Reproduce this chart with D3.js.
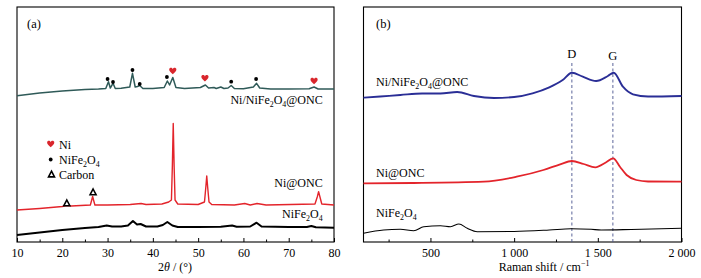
<!DOCTYPE html>
<html><head><meta charset="utf-8">
<script src="https://cdn.jsdelivr.net/npm/d3@7"></script>
<style>
body{margin:0;background:#fff;}
svg{display:block;}
svg text{font-family:"Liberation Serif","Times New Roman","DejaVu Serif",serif;}
</style></head>
<body><svg id="c" width="701" height="278" font-family="Liberation Serif, serif"></svg>
<script>
// ---------- DATA ----------
// Panel (a): XRD, 2θ (°) vs intensity (a.u., stacked with offsets)
const xrdNiNiFe2O4ONC = [[10,146.3],[15,149],[20,151],[25,152.5],[28,153],[29.6,153.5],[30.2,160.3],[30.6,154],[31.2,158.7],[31.7,153.5],[33,153.7],[34.9,155],[35.5,168.7],[36.1,155],[36.6,155.5],[37.1,156.5],[37.8,153.5],[40,153.5],[42.5,154.5],[43.2,161],[43.7,157],[44.4,164.5],[45.1,154.5],[47,153.5],[50.5,154.5],[51.6,157],[52.3,154],[53.5,154.5],[54,153.5],[55,155],[55.7,153.5],[56.6,154],[57.3,156.5],[58,153.5],[60,153.3],[62.2,155],[62.9,158.7],[63.6,154],[66,153],[70,153],[74.5,153.2],[75.6,155],[76.5,153],[80,153]];
const xrdNiONC = [[10,32],[15,33.5],[20,35.5],[21,36.5],[22,36],[26.2,37],[26.5,42],[26.7,45.5],[26.9,42],[27.2,37],[30,37],[35,37.5],[37.4,38.5],[38.5,37.5],[42,38],[43.5,40],[44.1,42],[44.3,75],[44.5,118.5],[44.7,75],[44.9,42],[45.5,38],[50,37.5],[51.4,40],[51.7,55],[51.9,66],[52.1,55],[52.4,40],[53,37.5],[58,37],[60.3,38.5],[61.5,37],[63,38.5],[65,37],[75.8,38],[76.3,45],[76.6,50.3],[76.9,45],[77.3,38],[80,37]];
const xrdNiFe2O4 = [[10,7],[15,9.5],[20,12],[25,14],[28,15],[29.8,16.5],[31,15.5],[33,15.5],[34.5,16.5],[35.6,21],[36.5,17.5],[37.3,18],[38.5,15.5],[41,15.5],[42.2,17],[43.2,20],[44.3,16.5],[45.5,15],[50,15],[55,15.3],[57.5,16.5],[58.5,15.3],[61.5,15.5],[62.9,19.3],[64,15.5],[70,15],[74,15],[75,16],[76,14.7],[80,14.3]];
const niMarks = [[44.4,171],[51.5,163.7],[75.6,161]];
const niFe2O4Marks = [[30.0,163],[31.2,160],[35.5,172],[37.1,158],[43.1,165],[57.3,160.3],[62.8,163]];
const carbonMarks = [[21.0,38.7],[26.8,49.7]];
const xrdTicks = [10,20,30,40,50,60,70,80];
const xrdMinor = [15,25,35,45,55,65,75];

// Panel (b): Raman, shift (cm-1) vs intensity (a.u., stacked)
const ramanNiNiFe2O4ONC = [[100,144.3],[200,145.5],[320,147],[450,148.5],[560,148.5],[660,150],[760,146],[880,144],[1000,145],[1110,148.7],[1210,154.7],[1290,162],[1345,169.3],[1410,165.3],[1490,161],[1560,166],[1595,169.3],[1650,155.3],[1710,147.7],[1800,145.5],[2000,146]];
const ramanNiONC = [[100,58.7],[400,59],[820,60.3],[1015,65.3],[1175,72],[1275,77.7],[1345,81],[1415,78],[1485,74.7],[1550,79.7],[1592,83.7],[1632,75.3],[1672,67],[1730,62],[1800,60.5],[2000,60.3]];
const ramanNiFe2O4 = [[100,8.7],[220,12],[320,12.7],[400,11.3],[460,15.3],[560,16.3],[620,15.3],[670,18],[720,13.7],[780,10.3],[1000,10.5],[1210,12],[1340,13.3],[1460,12.7],[1520,12],[1700,12.5],[2000,13.7]];
const ramanBands = [{name:"D",pos:1345},{name:"G",pos:1590}];
const ramanTicks = [500,1000,1500,2000];
const ramanTickLabels = ["500","1 000","1 500","2 000"];
const ramanMinor = [250,750,1250,1750];

// ---------- DRAW ----------
const FONT = "Liberation Serif, Times New Roman, serif";
const svg = d3.select("#c");
const plotTop = 7, plotBottom = 242;
const y = d3.scaleLinear().domain([0,235]).range([plotBottom, plotTop]);

const xA = d3.scaleLinear().domain([10,80]).range([17,334]);
const xB = d3.scaleLinear().domain([100,2000]).range([363.5,681.5]);

function axes(x, ticks, minor, fmt){
  const g = svg.append("g").attr("transform",`translate(0,${plotBottom})`);
  g.call(d3.axisBottom(x).tickValues(ticks).tickSizeInner(-4).tickSizeOuter(0).tickPadding(6).tickFormat(fmt))
   .attr("font-family",FONT).attr("font-size",12)
   .call(s=>s.select(".domain").remove())
   .call(s=>s.selectAll("text").attr("fill","#000"))
   .call(s=>s.selectAll("line").attr("stroke","#000"));
  const m = svg.append("g").attr("transform",`translate(0,${plotBottom})`);
  m.call(d3.axisBottom(x).tickValues(minor).tickSizeInner(-2.5).tickSizeOuter(0).tickFormat(""))
   .call(s=>s.select(".domain").remove())
   .call(s=>s.selectAll("text").remove())
   .call(s=>s.selectAll("line").attr("stroke","#000"));
  svg.append("rect").attr("x",x.range()[0]).attr("y",plotTop).attr("width",x.range()[1]-x.range()[0])
    .attr("height",plotBottom-plotTop).attr("fill","none").attr("stroke","#000").attr("stroke-width",1.1);
}

function line(x, data, color, w, curve){
  svg.append("path").datum(data).attr("fill","none").attr("stroke",color).attr("stroke-width",w)
    .attr("stroke-linejoin","round")
    .attr("d", d3.line().x(d=>x(d[0])).y(d=>y(d[1])).curve(curve||d3.curveLinear));
}

// parts: strings (normal), {sub}, {sup}, {it}
function label(x0, y0, parts, anchor, size){
  size = size||12;
  const t = svg.append("text").attr("x",x0).attr("y",y0).attr("text-anchor",anchor||"start")
    .attr("font-family",FONT).attr("font-size",size).attr("fill","#000");
  let shift = 0;
  parts.forEach(p=>{
    let target = 0, txt, fs = size, it = false;
    if(typeof p === "string"){ txt = p; }
    else if(p.sub){ txt = p.sub; target = 3; fs = size*0.66; }
    else if(p.sup){ txt = p.sup; target = -5; fs = size*0.66; }
    else if(p.it){ txt = p.it; it = true; }
    const s = t.append("tspan").attr("font-size",fs).attr("dy",target-shift).text(txt);
    if(it) s.attr("font-style","italic");
    shift = target;
  });
  return t;
}

const heart = s => `M0,${0.55*s} C${-0.2*s},${0.35*s} ${-0.65*s},${0.05*s} ${-0.6*s},${-0.28*s} C${-0.55*s},${-0.62*s} ${-0.1*s},${-0.62*s} 0,${-0.3*s} C${0.1*s},${-0.62*s} ${0.55*s},${-0.62*s} ${0.6*s},${-0.28*s} C${0.65*s},${0.05*s} ${0.2*s},${0.35*s} 0,${0.55*s}Z`;
const tri = s => `M0,${-0.55*s} L${0.5*s},${0.4*s} L${-0.5*s},${0.4*s}Z`;
const heartColor = "#d9262c";

// ----- Panel (a)
axes(xA, xrdTicks, xrdMinor, d3.format("d"));
line(xA, xrdNiFe2O4, "#000", 2);
line(xA, xrdNiONC, "#e3242b", 1.4);
line(xA, xrdNiNiFe2O4ONC, "#2f5a58", 1.5);

svg.append("g").selectAll("path").data(niMarks).join("path")
  .attr("transform",d=>`translate(${xA(d[0])},${y(d[1])})`).attr("d",heart(6)).attr("fill",heartColor);
svg.append("g").selectAll("circle").data(niFe2O4Marks).join("circle")
  .attr("cx",d=>xA(d[0])).attr("cy",d=>y(d[1])).attr("r",1.9).attr("fill","#000");
svg.append("g").selectAll("path").data(carbonMarks).join("path")
  .attr("transform",d=>`translate(${xA(d[0])},${y(d[1])})`).attr("d",tri(6)).attr("fill","#fff")
  .attr("stroke","#000").attr("stroke-width",1.6);

// legend
svg.append("path").attr("transform","translate(50.7,144)").attr("d",heart(6)).attr("fill",heartColor);
label(59,148.5,["Ni"]);
svg.append("circle").attr("cx",50.7).attr("cy",159.5).attr("r",1.9).attr("fill","#000");
label(59,164,["NiFe",{sub:"2"},"O",{sub:"4"}]);
svg.append("path").attr("transform","translate(51.5,174.5)").attr("d",tri(6)).attr("fill","#fff")
  .attr("stroke","#000").attr("stroke-width",1.6);
label(59,178.5,["Carbon"]);

label(322.7,104,["Ni/NiFe",{sub:"2"},"O",{sub:"4"},"@ONC"],"end");
label(322.7,186.7,["Ni@ONC"],"end");
label(322.7,218,["NiFe",{sub:"2"},"O",{sub:"4"}],"end");
label(27,28,["(a)"],"start",12.5);
label(175,270.5,["2",{it:"θ"}," / (°)"],"middle",12);

// ----- Panel (b)
axes(xB, ramanTicks, ramanMinor, (d,i)=>ramanTickLabels[i]);
ramanBands.forEach(b=>{
  svg.append("line").attr("x1",xB(b.pos)).attr("x2",xB(b.pos)).attr("y1",63).attr("y2",plotBottom)
    .attr("stroke","#4a5590").attr("stroke-width",0.9).attr("stroke-dasharray","3,2.5");
  label(xB(b.pos),b.name==="D"?58.3:60,[b.name],"middle",12.5);
});
line(xB, ramanNiFe2O4, "#000", 1.1, d3.curveMonotoneX);
line(xB, ramanNiONC, "#e3242b", 1.8, d3.curveMonotoneX);
line(xB, ramanNiNiFe2O4ONC, "#2a2e96", 1.9, d3.curveMonotoneX);

label(376,85.5,["Ni/NiFe",{sub:"2"},"O",{sub:"4"},"@ONC"]);
label(376,177.3,["Ni@ONC"]);
label(376,216.7,["NiFe",{sub:"2"},"O",{sub:"4"}]);
label(376,28,["(b)"],"start",12.5);
label(544,270.5,["Raman shift / cm",{sup:"−1"}],"middle",12);
</script></body></html>
